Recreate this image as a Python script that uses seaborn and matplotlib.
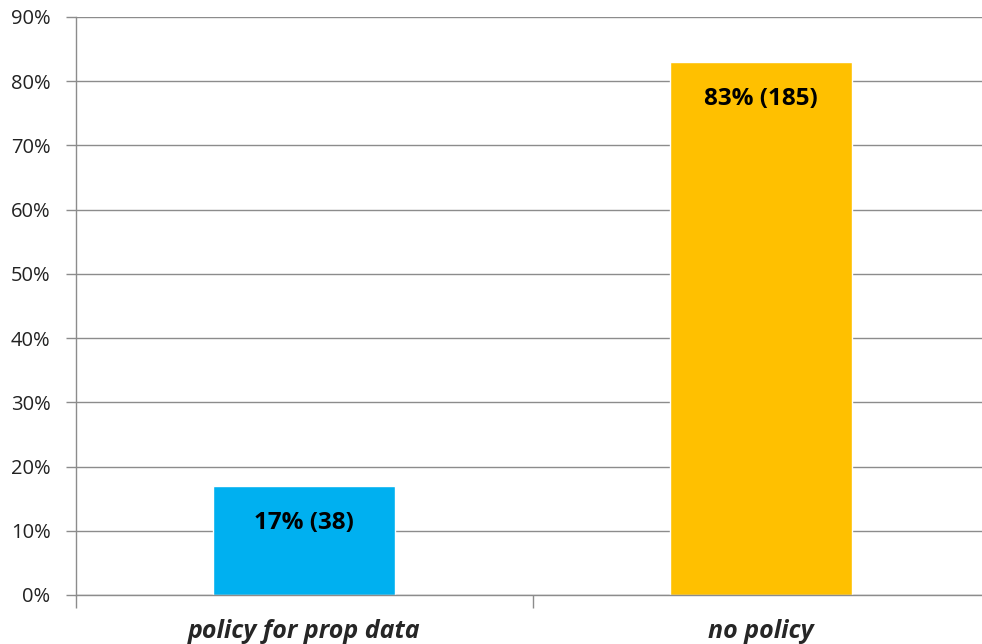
import matplotlib
matplotlib.use("Agg")
import matplotlib.pyplot as plt
import seaborn as sns
import pandas as pd
from matplotlib.ticker import PercentFormatter, FixedLocator

sns.set_style("white")
plt.rcParams["font.family"] = ["Open Sans", "DejaVu Sans"]

# data
categories = ["policy for prop data", "no policy"]
shares = [17, 83]
counts = [38, 185]
colors = ["#00B0F0", "#FFC000"]

df = pd.DataFrame({"Category": categories, "Share": shares, "Count": counts})

fig = plt.figure(figsize=(9.82, 6.44), dpi=100)
ax = fig.add_axes([75.5 / 982, 49 / 644, 914 / 982, 578 / 644])

sns.barplot(data=df, x="Category", y="Share", hue="Category",
            palette=dict(zip(categories, colors)), width=0.4,
            saturation=1, legend=False, ax=ax)

ax.set_xlim(-0.5, 1.5)
ax.set_ylim(0, 90)
ax.set_yticks(range(0, 91, 10))
ax.yaxis.set_major_formatter(PercentFormatter(decimals=0))
ax.set_xlabel('')
ax.set_ylabel('')

# bar labels
for i, (s, c) in enumerate(zip(shares, counts)):
    ax.annotate(f"{s}% ({c})", (i, s), xytext=(0, -27), textcoords="offset points",
                ha="center", va="center", fontsize=17.5, fontweight="bold", color="black")

# grid and spines
ax.yaxis.grid(True, color="#8c8c8c", linewidth=1)
ax.xaxis.grid(False)
ax.set_axisbelow(True)
for side in ["top", "right"]:
    ax.spines[side].set_visible(False)
for side in ["left", "bottom"]:
    ax.spines[side].set_color("#8c8c8c")
    ax.spines[side].set_linewidth(1)

ax.tick_params(axis="y", which="major", direction="out", length=7, width=1,
               color="#8c8c8c", pad=11, labelsize=14.5, labelcolor="#222222", left=True)
ax.tick_params(axis="x", which="major", length=0, pad=17, labelsize=18)
ax.xaxis.set_minor_locator(FixedLocator([-0.5, 0.5]))
ax.tick_params(axis="x", which="minor", direction="out", length=9, width=1,
               color="#8c8c8c", bottom=True)
for lbl in ax.get_xticklabels():
    lbl.set_fontweight("bold")
    lbl.set_fontstyle("italic")

fig.savefig("out.png", dpi=100)
